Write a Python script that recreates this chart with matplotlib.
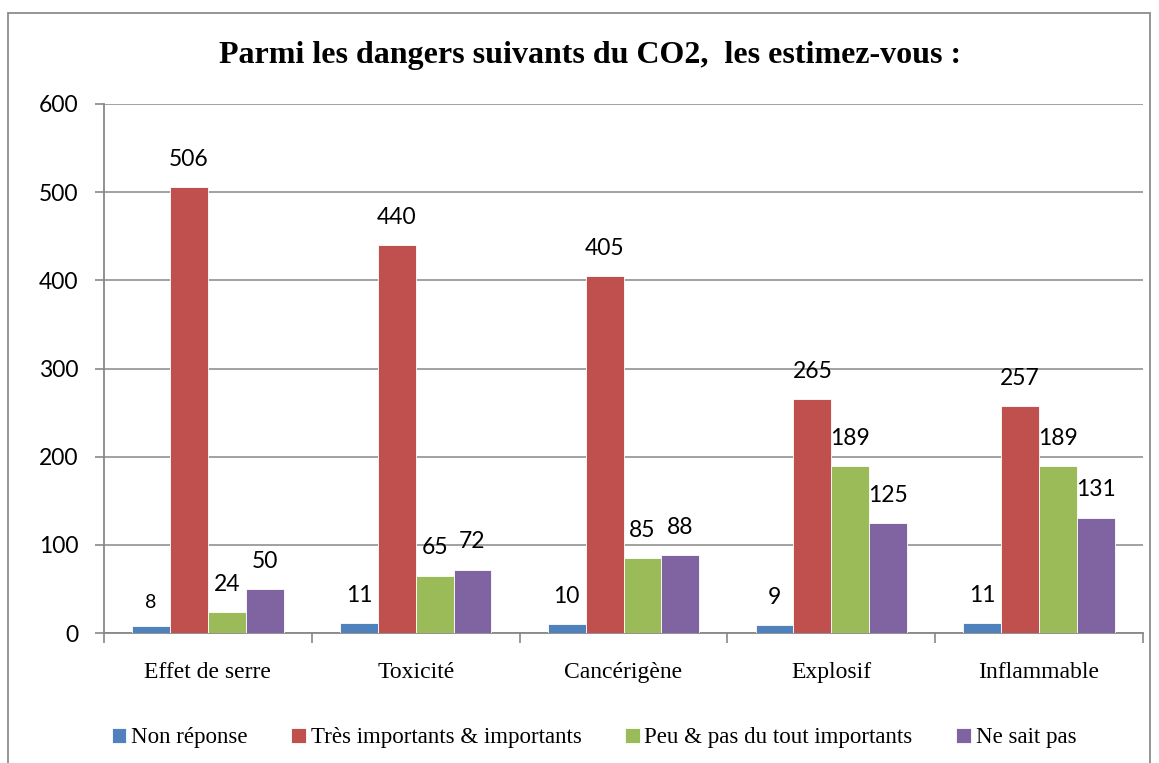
import matplotlib
matplotlib.use('Agg')
import matplotlib.pyplot as plt
import numpy as np
from matplotlib.patches import Rectangle
from matplotlib.font_manager import FontProperties

# data
categories = ['Effet de serre', 'Toxicité', 'Cancérigène', 'Explosif', 'Inflammable']
series = ['Non réponse', 'Très importants & importants',
          'Peu & pas du tout importants', 'Ne sait pas']
non_reponse = [8, 11, 10, 9, 11]
tres_importants = [506, 440, 405, 265, 257]
peu_importants = [24, 65, 85, 189, 189]
ne_sait_pas = [50, 72, 88, 125, 131]
y_ticks = [0, 100, 200, 300, 400, 500, 600]

colors = ['#4F81BD', '#C0504D', '#9BBB59', '#8064A2']
GRID = '#888888'
SERIF = 'Liberation Serif'
SANS = 'Lato'

fig = plt.figure(figsize=(11.59, 7.63), dpi=100)
fig.patch.set_facecolor('white')

# outer chart frame
fig.patches.append(Rectangle((8 / 1159, -0.05), (1150 - 8) / 1159, 1.05 - 13 / 763,
                             transform=fig.transFigure, fill=False,
                             edgecolor='#8c8c8c', lw=1.3))

ax = fig.add_axes([104 / 1159, 1 - 633 / 763, (1143 - 104) / 1159, (633 - 104) / 763])

x = np.arange(len(categories))
bw = 0.182
all_vals = [non_reponse, tres_importants, peu_importants, ne_sait_pas]
for i, (vals, col, name) in enumerate(zip(all_vals, colors, series)):
    pos = x + (i - 1.5) * bw
    ax.bar(pos, vals, width=bw, color=col, edgecolor='white', linewidth=0.6,
           label=name, zorder=3)
    for px, v in zip(pos, vals):
        fs = 14 if v == 8 else 16.5
        ax.annotate(str(v), (px, v), xytext=(0, 17 if v == 8 else 20),
                    textcoords='offset points', ha='center', va='center',
                    fontsize=fs, family=SANS, color='black')

ax.set_xlim(-0.5, len(categories) - 0.5)
ax.set_ylim(0, 600)
ax.set_yticks(y_ticks)
ax.set_yticklabels([str(t) for t in y_ticks], family=SANS, fontsize=16.5)
ax.set_xticks(x)
ax.set_xticklabels(categories, family=SERIF, fontsize=17)
ax.set_xticks(np.arange(-0.5, len(categories)), minor=True)
ax.tick_params(axis='x', which='major', length=0, pad=21)
ax.tick_params(axis='x', which='minor', length=7, color=GRID, width=1.2)
ax.tick_params(axis='y', length=6.5, color=GRID, width=1.2, pad=12)
ax.grid(axis='y', color=GRID, lw=1.1, zorder=0)
for s in ['top', 'right']:
    ax.spines[s].set_visible(False)
for s in ['left', 'bottom']:
    ax.spines[s].set_color(GRID)
    ax.spines[s].set_linewidth(1.3)

fig.text(590 / 1159, 1 - 55 / 763, 'Parmi les dangers suivants du CO2,  les estimez-vous :',
         ha='center', va='center', fontsize=23, fontweight='bold', family=SERIF)

fig.legend(loc='center', bbox_to_anchor=(594 / 1159, 1 - 738 / 763), ncol=4,
           frameon=False, prop=FontProperties(family=SERIF, size=16.5),
           handlelength=0.65, handleheight=0.65, handletextpad=0.2,
           columnspacing=1.9)

fig.savefig('out.png', dpi=100, facecolor='white')
